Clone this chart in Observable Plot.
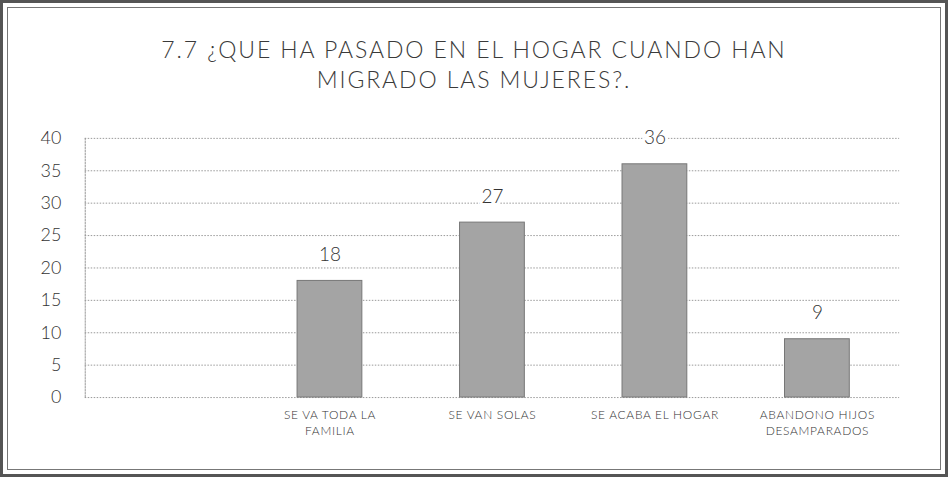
<!DOCTYPE html>
<html>
<head>
<meta charset="utf-8">
<script src="https://cdn.jsdelivr.net/npm/d3@7"></script>
<script src="https://cdn.jsdelivr.net/npm/@observablehq/plot@0.6"></script>
<style>
  html, body { margin: 0; padding: 0; background: #fff; }
  #frame {
    position: relative; width: 948px; height: 477px; box-sizing: border-box;
    border: 3px solid #555; background: #fff; overflow: hidden;
  }
  #inner {
    position: absolute; left: 4px; top: 4px; right: 4px; bottom: 4px;
    border: 1px solid #777;
  }
  #title {
    position: absolute; left: 0; top: 31px; width: 942px; text-align: center;
    font-family: Lato, "Open Sans", sans-serif; font-weight: 300;
    font-size: 23px; line-height: 30px; letter-spacing: 1.9px; color: #3a3a3a;
  }
  #chart { position: absolute; left: -3px; top: 97px; }
  #chart g[aria-label="x-axis tick label"] text { letter-spacing: 0.7px; }
</style>
</head>
<body>
<div id="frame">
  <div id="inner"></div>
  <div id="title">7.7 ¿QUE HA PASADO EN EL HOGAR CUANDO HAN<br>MIGRADO LAS MUJERES?.</div>
  <div id="chart"></div>
</div>
<script>
const categories = ["", "SE VA TODA LA\nFAMILIA", "SE VAN SOLAS", "SE ACABA EL HOGAR", "ABANDONO HIJOS\nDESAMPARADOS"];
const barCategories = ["SE VA TODA LA\nFAMILIA", "SE VAN SOLAS", "SE ACABA EL HOGAR", "ABANDONO HIJOS\nDESAMPARADOS"];
const values = [18, 27, 36, 9];
const yTicks = [0, 5, 10, 15, 20, 25, 30, 35, 40];

const data = barCategories.map((c, i) => ({cat: c, value: values[i]}));

const chart = Plot.plot({
  width: 948,
  height: 377,
  marginTop: 38,
  marginBottom: 79,
  marginLeft: 85,
  marginRight: 46,
  style: {fontFamily: "Lato, 'Open Sans', sans-serif", color: "#333", background: "transparent"},
  x: {domain: categories, paddingInner: 0.6, paddingOuter: 0.3, label: null},
  y: {domain: [0, 40], label: null},
  marks: [
    Plot.ruleY(yTicks, {stroke: "#9a9a9a", strokeWidth: 1, strokeDasharray: "1.5,1.5"}),
    Plot.frame({anchor: "left", stroke: "#9a9a9a", strokeDasharray: "1.5,1.5"}),
    Plot.barY(data, {x: "cat", y: "value", fill: "#a4a4a4", stroke: "#777", strokeWidth: 1}),
    Plot.text(data, {x: "cat", y: "value", text: d => String(d.value), dy: -26, fontSize: 19, fill: "#333", stroke: "white", strokeWidth: 6, fontWeight: 300}),
    Plot.axisY({ticks: yTicks, tickSize: 0, tickPadding: 24, fontSize: 18, fontWeight: 300, fill: "#333", label: null}),
    Plot.axisX({tickSize: 0, tickPadding: 10, fontSize: 12, fontWeight: 300, fill: "#333", label: null, lineHeight: 1.35})
  ]
});
document.getElementById("chart").appendChild(chart);
</script>
</body>
</html>
